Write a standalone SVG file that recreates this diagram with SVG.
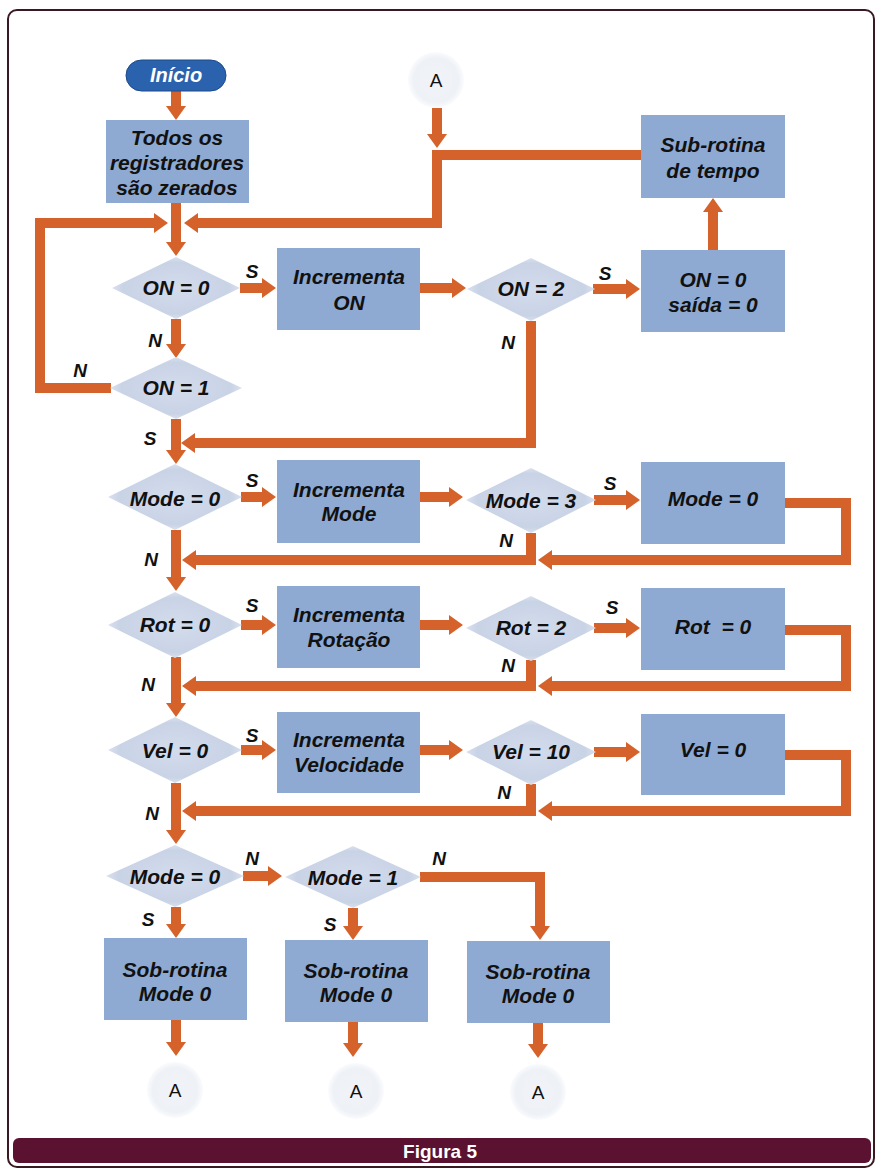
<svg xmlns="http://www.w3.org/2000/svg" width="877" height="1171" viewBox="0 0 877 1171">
<defs>
<marker id="ah" viewBox="0 0 14 20" markerUnits="userSpaceOnUse" markerWidth="14" markerHeight="20" refX="4" refY="10" orient="auto">
<path d="M0,0 L14,10 L0,20 Z" fill="#d5622a"/>
</marker>
<radialGradient id="dg" cx="50%" cy="50%" r="55%">
<stop offset="0" stop-color="#d3dcec"/>
<stop offset="0.75" stop-color="#c9d3e6"/>
<stop offset="1" stop-color="#e4e9f2"/>
</radialGradient>
<radialGradient id="cg" cx="50%" cy="50%" r="50%">
<stop offset="0" stop-color="#f1f3f8"/>
<stop offset="0.8" stop-color="#eef1f6"/>
<stop offset="1" stop-color="#fafbfd"/>
</radialGradient>
</defs>
<style>
.box{fill:#8eaad2}
.dia{fill:url(#dg)}
.circ{fill:url(#cg)}
.t{font-family:"Liberation Sans",Arial,sans-serif;font-weight:bold;font-style:italic;font-size:21px;fill:#111;text-anchor:middle}
.lb{font-family:"Liberation Sans",Arial,sans-serif;font-weight:bold;font-style:italic;font-size:19px;fill:#111;text-anchor:middle}
.a{font-family:"Liberation Sans",Arial,sans-serif;font-size:19px;fill:#111;text-anchor:middle}
.c{fill:none;stroke:#d5622a;stroke-width:10;marker-end:url(#ah)}
</style>
<rect x="0" y="0" width="877" height="1171" fill="#ffffff"/>
<rect x="8" y="10" width="866" height="1157" rx="9" fill="none" stroke="#3a1a22" stroke-width="2"/>

<g id="connectors">
<path class="c" d="M176,90 V110"/>
<path class="c" d="M176,203 V246"/>
<path class="c" d="M111,388 H40 V223 H158"/>
<path class="c" d="M641,155 H437 V223 H194"/>
<path class="c" d="M437,108 V138"/>
<path class="c" d="M240,288 H266"/>
<path class="c" d="M420,288 H456"/>
<path class="c" d="M593,289 H630"/>
<path class="c" d="M713,250 V208"/>
<path class="c" d="M531,321 V443 H191"/>
<path class="c" d="M176,319 V348"/>
<path class="c" d="M176,419 V454"/>

<path class="c" d="M241,497 H266"/>
<path class="c" d="M420,497 H453"/>
<path class="c" d="M594,500 H630"/>
<path class="c" d="M785,503 H846 V560 H548"/>
<path class="c" d="M531,533 V560 H192"/>
<path class="c" d="M176,530 V581"/>

<path class="c" d="M241,625 H266"/>
<path class="c" d="M420,625 H453"/>
<path class="c" d="M594,628 H630"/>
<path class="c" d="M785,630 H846 V686 H548"/>
<path class="c" d="M531,660 V686 H192"/>
<path class="c" d="M176,657 V707"/>

<path class="c" d="M241,750 H266"/>
<path class="c" d="M420,750 H453"/>
<path class="c" d="M594,752 H630"/>
<path class="c" d="M785,755 H846 V811 H548"/>
<path class="c" d="M531,784 V811 H192"/>
<path class="c" d="M176,783 V834"/>

<path class="c" d="M243,876 H272"/>
<path class="c" d="M420,877 H540 V930"/>
<path class="c" d="M176,907 V928"/>
<path class="c" d="M353,908 V930"/>
<path class="c" d="M176,1020 V1046"/>
<path class="c" d="M353,1022 V1047"/>
<path class="c" d="M538,1023 V1048"/>

<text class="lb" x="252" y="278">S</text>
<text class="lb" x="605" y="280">S</text>
<text class="lb" x="155" y="347">N</text>
<text class="lb" x="508" y="349">N</text>
<text class="lb" x="80" y="377">N</text>
<text class="lb" x="150" y="445">S</text>

<text class="lb" x="252" y="487">S</text>
<text class="lb" x="610" y="490">S</text>
<text class="lb" x="506" y="547">N</text>
<text class="lb" x="151" y="566">N</text>

<text class="lb" x="252" y="612">S</text>
<text class="lb" x="612" y="614">S</text>
<text class="lb" x="508" y="672">N</text>
<text class="lb" x="148" y="691">N</text>

<text class="lb" x="252" y="742">S</text>
<text class="lb" x="504" y="799">N</text>
<text class="lb" x="152" y="820">N</text>

<text class="lb" x="252" y="865">N</text>
<text class="lb" x="439" y="865">N</text>
<text class="lb" x="148" y="926">S</text>
<text class="lb" x="330" y="931">S</text>
</g>

<g id="inicio">
<rect x="126" y="60" width="100" height="31" rx="15.5" fill="#2a62ad" stroke="#1d4a8a" stroke-width="1"/>
<text x="176" y="82" style="font-family:'Liberation Sans',Arial,sans-serif;font-weight:bold;font-style:italic;font-size:20px;fill:#ffffff;text-anchor:middle">Início</text>
</g>

<g id="zera">
<rect class="box" x="106" y="120" width="143" height="83"/>
<text class="t" x="177" y="145">Todos os</text>
<text class="t" x="177" y="170">registradores</text>
<text class="t" x="177" y="195">são zerados</text>
</g>

<g id="a-top">
<circle class="circ" cx="436" cy="80" r="28"/>
<text class="a" x="436" y="87">A</text>
</g>

<g id="subtempo">
<rect class="box" x="641" y="115" width="144" height="83"/>
<text class="t" x="713" y="152">Sub-rotina</text>
<text class="t" x="713" y="178">de tempo</text>
</g>

<g id="on0">
<polygon class="dia" points="176,257 240,288 176,319 112,288"/>
<text class="t" x="176" y="295">ON = 0</text>
</g>

<g id="incon">
<rect class="box" x="277" y="248" width="143" height="82"/>
<text class="t" x="349" y="284">Incrementa</text>
<text class="t" x="349" y="310">ON</text>
</g>

<g id="on2">
<polygon class="dia" points="531,258 595,289 531,321 467,289"/>
<text class="t" x="531" y="296">ON = 2</text>
</g>

<g id="onzero">
<rect class="box" x="641" y="250" width="144" height="82"/>
<text class="t" x="713" y="287">ON = 0</text>
<text class="t" x="713" y="312">saída = 0</text>
</g>

<g id="on1">
<polygon class="dia" points="176,357 242,388 176,419 110,388"/>
<text class="t" x="176" y="395">ON = 1</text>
</g>

<g id="mode0">
<polygon class="dia" points="175,464 242,497 175,530 108,497"/>
<text class="t" x="175" y="506">Mode = 0</text>
</g>
<g id="incmode">
<rect class="box" x="277" y="460" width="143" height="83"/>
<text class="t" x="349" y="497">Incrementa</text>
<text class="t" x="349" y="521">Mode</text>
</g>
<g id="mode3">
<polygon class="dia" points="531,468 596,500 531,533 466,500"/>
<text class="t" x="531" y="508">Mode = 3</text>
</g>
<g id="modezero">
<rect class="box" x="641" y="462" width="144" height="82"/>
<text class="t" x="713" y="506">Mode = 0</text>
</g>

<g id="rot0">
<polygon class="dia" points="175,592 242,625 175,658 108,625"/>
<text class="t" x="175" y="632">Rot = 0</text>
</g>
<g id="incrot">
<rect class="box" x="277" y="586" width="143" height="82"/>
<text class="t" x="349" y="622">Incrementa</text>
<text class="t" x="349" y="647">Rotação</text>
</g>
<g id="rot2">
<polygon class="dia" points="531,596 596,628 531,661 466,628"/>
<text class="t" x="531" y="635">Rot = 2</text>
</g>
<g id="rotzero">
<rect class="box" x="641" y="588" width="144" height="82"/>
<text class="t" x="713" y="634" xml:space="preserve">Rot  = 0</text>
</g>

<g id="vel0">
<polygon class="dia" points="175,717 242,750 175,783 108,750"/>
<text class="t" x="175" y="758">Vel = 0</text>
</g>
<g id="incvel">
<rect class="box" x="277" y="712" width="143" height="81"/>
<text class="t" x="349" y="747">Incrementa</text>
<text class="t" x="349" y="772">Velocidade</text>
</g>
<g id="vel10">
<polygon class="dia" points="531,720 596,752 531,785 466,752"/>
<text class="t" x="531" y="759">Vel = 10</text>
</g>
<g id="velzero">
<rect class="box" x="641" y="714" width="144" height="81"/>
<text class="t" x="713" y="757">Vel = 0</text>
</g>

<g id="mode0b">
<polygon class="dia" points="175,845 244,876 175,907 106,876"/>
<text class="t" x="175" y="884">Mode = 0</text>
</g>
<g id="mode1">
<polygon class="dia" points="353,846 421,877 353,908 285,877"/>
<text class="t" x="353" y="885">Mode = 1</text>
</g>

<g id="sob1">
<rect class="box" x="104" y="938" width="143" height="82"/>
<text class="t" x="175" y="977">Sob-rotina</text>
<text class="t" x="175" y="1001">Mode 0</text>
</g>
<g id="sob2">
<rect class="box" x="285" y="940" width="143" height="82"/>
<text class="t" x="356" y="978">Sob-rotina</text>
<text class="t" x="356" y="1002">Mode 0</text>
</g>
<g id="sob3">
<rect class="box" x="467" y="941" width="143" height="82"/>
<text class="t" x="538" y="979">Sob-rotina</text>
<text class="t" x="538" y="1003">Mode 0</text>
</g>

<g id="a1">
<circle class="circ" cx="175" cy="1090" r="28"/>
<text class="a" x="175" y="1097">A</text>
</g>
<g id="a2">
<circle class="circ" cx="356" cy="1091" r="28"/>
<text class="a" x="356" y="1098">A</text>
</g>
<g id="a3">
<circle class="circ" cx="538" cy="1092" r="28"/>
<text class="a" x="538" y="1099">A</text>
</g>

<g id="footer">
<rect x="13" y="1138" width="858" height="25" rx="6" fill="#5a1230"/>
<text x="440" y="1158" style="font-family:'Liberation Sans',Arial,sans-serif;font-weight:bold;font-size:19px;fill:#ffffff;text-anchor:middle">Figura 5</text>
</g>
</svg>
